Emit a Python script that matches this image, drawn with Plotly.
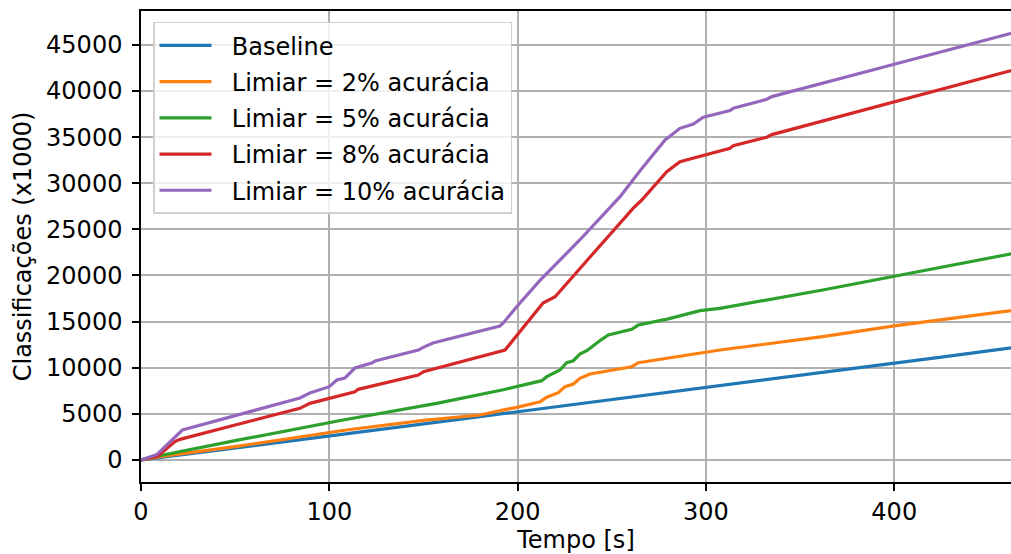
import plotly.graph_objects as go

# Cumulative classifications (x1000) over time for each threshold policy
t_baseline = [0, 25, 50, 75, 100, 125, 150, 175, 200, 225, 250, 275, 300,
              325, 350, 375, 400, 425, 450, 470]
y_baseline = [0, 640, 1290, 1950, 2610, 3260, 3920, 4570, 5230, 5880, 6540,
              7190, 7850, 8500, 9160, 9820, 10500, 11160, 11830, 12360]

t_lim2 = [0, 9, 50, 109, 150, 180, 194, 199.5, 212, 215.5, 221.6, 225.2,
          229.6, 233.1, 238.4, 250, 260.6, 264.1, 280, 297, 307.5, 330, 362,
          400, 430, 462, 470]
y_lim2 = [0, 330, 1450, 3250, 4300, 4880, 5490, 5710, 6320, 6800, 7300, 7950,
          8240, 8860, 9320, 9700, 10110, 10550, 11050, 11630, 11920, 12520,
          13370, 14530, 15320, 16190, 16400]

t_lim5 = [0, 9, 50, 84.4, 107.3, 157, 180, 192.4, 212.8, 215.5, 222.5, 226,
          229.6, 233.1, 236.7, 241.1, 244.7, 248.2, 260.6, 264.1, 280, 296.9,
          307.5, 362, 399.5, 430, 462, 470]
y_lim5 = [0, 430, 2100, 3430, 4340, 6140, 7050, 7620, 8600, 9030, 9760, 10550,
          10760, 11490, 11850, 12570, 13080, 13550, 14170, 14630, 15300, 16190,
          16440, 18430, 19870, 21050, 22330, 22650]

t_lim8 = [0, 9, 18, 20.7, 50, 84.4, 89.7, 113.6, 115.3, 147.3, 150, 193.3,
          213.5, 219.9, 240, 261.3, 265.9, 279.2, 286.2, 307.5, 312.8, 314.5,
          332.3, 335, 400, 462, 470]
y_lim8 = [0, 430, 1990, 2240, 3790, 5600, 6140, 7400, 7660, 9210, 9570, 11920,
          17010, 17700, 22350, 27280, 28180, 31250, 32340, 33530, 33790, 34080,
          34980, 35270, 38820, 42200, 42640]

t_lim10 = [0, 8.5, 22, 35.6, 84.4, 89.7, 100, 104, 108.3, 113.6, 122.5, 124.3,
           147.3, 149.9, 155, 190.6, 192.4, 199.5, 212, 233, 254.4, 265, 278.3,
           281, 286.2, 293.3, 298.6, 312.8, 314.5, 332.3, 335, 400, 462, 470]
y_lim10 = [0, 600, 3250, 4000, 6720, 7260, 7950, 8670, 8890, 9970, 10510,
           10730, 11920, 12210, 12680, 14530, 14850, 16620, 19500, 23850, 28540,
           31350, 34690, 35120, 35950, 36420, 37150, 37870, 38120, 39100, 39390,
           42900, 46250, 46680]

series = [
    ("Baseline", t_baseline, y_baseline, "#1f77b4"),
    ("Limiar = 2% acurácia", t_lim2, y_lim2, "#ff7f0e"),
    ("Limiar = 5% acurácia", t_lim5, y_lim5, "#2ca02c"),
    ("Limiar = 8% acurácia", t_lim8, y_lim8, "#d62728"),
    ("Limiar = 10% acurácia", t_lim10, y_lim10, "#9467bd"),
]

x_ticks = [0, 100, 200, 300, 400]
y_ticks = [0, 5000, 10000, 15000, 20000, 25000, 30000, 35000, 40000, 45000]

FONT = "DejaVu Sans"
FS = 24
NBSP = "\u00a0"

fig = go.Figure()
for name, t, y, color in series:
    fig.add_trace(go.Scatter(
        x=t, y=y, mode="lines", name=NBSP * 2 + name, legendgroup=name,
        line=dict(color=color, width=3.2),
    ))

axis_common = dict(
    showgrid=True, gridcolor="#b0b0b0", gridwidth=1.6,
    ticks="outside", ticklen=7, tickwidth=1.5, tickcolor="black",
    showline=True, linecolor="black", linewidth=1.5,
    zeroline=False, automargin=False,
    tickfont=dict(family=FONT, size=FS, color="black"),
)

fig.update_layout(
    width=1011, height=554,
    margin=dict(l=141, r=0, t=11, b=72),
    paper_bgcolor="white", plot_bgcolor="white",
    font=dict(family=FONT, size=FS, color="black"),
    showlegend=True,
    legend=dict(
        x=0.0138, y=0.977, xanchor="left", yanchor="top",
        bgcolor="rgba(255,255,255,0.8)", bordercolor="#d0d0d0", borderwidth=1.5,
        font=dict(family=FONT, size=FS, color="black"),
        traceorder="grouped", tracegroupgap=2, itemwidth=52,
    ),
    xaxis=dict(
        range=[0, 462], tickvals=x_ticks, mirror=True,
        title=dict(text="Tempo [s]", standoff=16,
                   font=dict(family=FONT, size=FS, color="black")),
        **axis_common,
    ),
    yaxis=dict(
        range=[-2385, 48670], tickvals=y_ticks, tickformat="d",
        ticklabelstandoff=5,
        title=dict(text="Classificações (x1000)", standoff=8,
                   font=dict(family=FONT, size=FS, color="black")),
        **axis_common,
    ),
)

fig.write_html("out.html")
